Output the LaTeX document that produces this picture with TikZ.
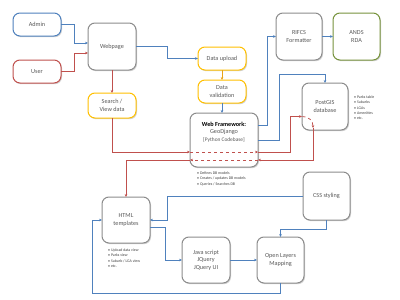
\documentclass[tikz,border=0pt]{standalone}
\usepackage{fontspec}
\setmainfont{Carlito}
\usetikzlibrary{shadows,arrows.meta,calc}
\definecolor{bblue}{HTML}{4F81BD}
\definecolor{rred}{HTML}{C0504D}
\definecolor{yel}{HTML}{FFC000}
\definecolor{yarr}{HTML}{E8A317}
\definecolor{grn}{HTML}{77933C}
\definecolor{gbord}{HTML}{8C8C8C}
\definecolor{txt}{HTML}{595959}
\definecolor{ltxt}{HTML}{404040}
\begin{document}
\begin{tikzpicture}[x=1pt,y=-1pt,
  box/.style={draw=gbord, line width=1pt, fill=white, rounded corners=7pt,
    drop shadow={shadow xshift=1pt,shadow yshift=-1.2pt,opacity=0.35},
    font=\fontsize{6.2}{7.4}\selectfont, text=txt, align=center, inner sep=0pt, outer sep=0pt},
  bluebox/.style={box, draw=bblue},
  redbox/.style={box, draw=rred},
  yelbox/.style={box, draw=yel},
  grnbox/.style={box, draw=grn},
  arr/.style={-{Stealth[length=3pt,width=2.6pt]}},
  bl/.style={draw=bblue, line width=0.75pt},
  rd/.style={draw=rred, line width=0.75pt},
  yl/.style={draw=yarr, line width=0.75pt},
  lst/.style={font=\fontsize{3.9}{5.3}\selectfont, text=ltxt, align=left, inner sep=0pt, anchor=north west}
]
\useasboundingbox (0,0) rectangle (400,300);
\fill[white] (0,0) rectangle (400,300);

\node[bluebox, minimum width=48pt, minimum height=23pt] (admin) at (37,24.5) {Admin};
\node[redbox, minimum width=48pt, minimum height=23pt] (user) at (37,71.5) {User};
\node[box, minimum width=48pt, minimum height=47pt] (web) at (112,46.5) {Webpage};
\node[yelbox, minimum width=48pt, minimum height=25pt] (search) at (112,105.5) {Search /\\View data};
\node[yelbox, minimum width=48pt, minimum height=23pt] (upload) at (222,58.5) {Data upload};
\node[yelbox, minimum width=48pt, minimum height=23pt] (valid) at (222,91.5) {Data\\validation};
\node[box, minimum width=68pt, minimum height=54pt, text=black] (wf) at (224,140) {\textbf{Web Framework:}\\[-0.3pt]{\color{txt}GeoDjango}\\[-0.3pt]{\color{txt}\fontsize{5.4}{6}\selectfont[Python Codebase]}\\[9pt]};
\node[box, minimum width=46pt, minimum height=47pt] (rifcs) at (299,36.5) {RIFCS\\Formatter};
\node[grnbox, minimum width=47pt, minimum height=47pt] (ands) at (356.5,36.5) {ANDS\\RDA};
\node[box, minimum width=46pt, minimum height=47pt] (postgis) at (325,106.5) {PostGIS\\database};
\node[box, minimum width=47pt, minimum height=48pt] (css) at (326.5,196) {CSS styling};
\node[box, minimum width=48pt, minimum height=46pt] (html) at (126,220) {HTML\\templates};
\node[box, minimum width=48pt, minimum height=46pt] (js) at (206,260) {Java script\\JQuery\\JQuery UI};
\node[box, minimum width=47pt, minimum height=46pt] (ol) at (280.5,260) {Open Layers\\Mapping};

\node[lst] (l1) at (354,95.6) {\textbullet\ Parks table\\\textbullet\ Suburbs\\\textbullet\ LGAs\\\textbullet\ Amenities\\\textbullet\ etc.};
\node[lst] (l2) at (197,171.5) {\textbullet\ Defines DB models\\\textbullet\ Creates / updates DB models\\\textbullet\ Queries / Searches DB};
\node[lst] (l3) at (108,248.6) {\textbullet\ Upload data view\\\textbullet\ Parks view\\\textbullet\ Suburb / LGA view\\\textbullet\ etc.};

% top connectors
\draw[bl,arr] (admin.east) -| (74,43) -- (web.west |- 0,43);
\draw[rd,arr] (user.east) -| (74,53) -- (web.west |- 0,53);
\draw[bl,arr] (web.east) -| (167,58.5) -- (upload.west);
\draw[rd,arr] (web.south) -- (search.north);
\draw[yl,arr] (upload.south) -- (valid.north);
\draw[bl,arr] (valid.south) -- (valid.south |- wf.north);
\draw[bl,arr] (wf.east |- 0,125) -| (267,36.5) -- (rifcs.west);
\draw[bl,arr] (wf.east |- 0,140) -| (279,74) -| (postgis.north);
\draw[bl,arr] (rifcs.east) -- (ands.west);

% red data paths
\draw[rd,arr] (search.south) |- (wf.west |- 0,152);
\draw[rd,dashed,arr] (wf.west |- 0,152) -- (wf.east |- 0,152);
\draw[rd,arr] (wf.east |- 0,152) -| (290,116.5) -- (postgis.west |- 0,116.5);
\coordinate (pc) at (313,128);
\draw[rd,dashed,arr] (302.5,116.5) .. controls (309,116.5) and (313,121) .. (pc);
\draw[rd,arr] (pc) |- (wf.east |- 0,160);
\draw[rd,dashed,arr] (wf.east |- 0,160) -- (wf.west |- 0,160);
\draw[rd,arr] (wf.west |- 0,160) -| (html.north);

% bottom connectors
\draw[bl,arr] (css.west) -| (167,220) -- (html.east);
\draw[bl,arr] (html.east |- 0,227) -| (165,260) -- (js.west);
\draw[bl,arr] (js.east) -- (ol.west);
\draw[bl,arr] (css.south) |- (280.5,229) -- (ol.north);
\draw[bl,arr] (ol.south) |- (92,293) |- (html.west);
\end{tikzpicture}
\end{document}
